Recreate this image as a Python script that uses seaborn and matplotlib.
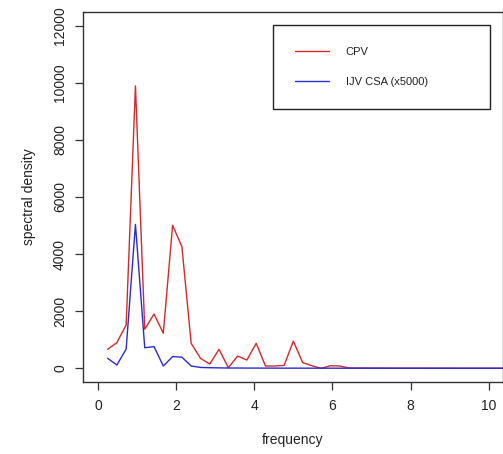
import numpy as np
import pandas as pd
import matplotlib
matplotlib.use("Agg")
import matplotlib.pyplot as plt
import seaborn as sns

# ---- data ----
freq = [0.238, 0.476, 0.714, 0.952, 1.190, 1.428, 1.666, 1.904, 2.142, 2.380,
        2.618, 2.856, 3.094, 3.332, 3.570, 3.808, 4.046, 4.284, 4.522, 4.760,
        4.998, 5.236, 5.474, 5.712, 5.950, 6.188, 6.426, 6.664, 6.902, 7.140,
        7.378, 7.616, 7.854, 8.092, 8.330, 8.568, 8.806, 9.044, 9.282, 9.520,
        9.758, 9.996, 10.234, 10.472]
cpv = [665, 900, 1520, 9890, 1370, 1900, 1230, 5010, 4260, 875,
       350, 150, 665, 20, 430, 290, 875, 80, 80, 100,
       950, 200, 90, 0, 90, 80, 10, 10, 8, 8,
       6, 6, 5, 5, 5, 4, 4, 4, 3, 3,
       3, 3, 3, 3]
ijv = [350, 115, 675, 5040, 720, 760, 80, 410, 390, 80,
       30, 20, 15, 10, 10, 8, 8, 6, 6, 5,
       5, 5, 4, 4, 4, 3, 3, 3, 3, 3,
       2, 2, 2, 2, 2, 2, 2, 2, 2, 2,
       2, 2, 2, 2]
series_names = ["CPV", "IJV CSA (x5000)"]
x_ticks = [0, 2, 4, 6, 8, 10]
y_ticks = [0, 2000, 4000, 6000, 8000, 10000, 12000]

sns.set_theme(style="ticks")
plt.rcParams["font.family"] = ["Liberation Sans", "DejaVu Sans"]

W, H = 503, 454
fig = plt.figure(figsize=(W / 100, H / 100), dpi=100)
ax = fig.add_axes([83 / W, 72 / H, 420 / W, 370 / H])

red = "#d02a2a"
blue = "#2b2bcc"
sns.lineplot(x=freq, y=cpv, color=red, linewidth=1.0, label=series_names[0], ax=ax)
sns.lineplot(x=freq, y=ijv, color=blue, linewidth=1.0, label=series_names[1], ax=ax)

ax.set_xlim(-0.392, 10.37)
ax.set_ylim(-480, 12480)
ax.set_xticks(x_ticks)
ax.set_yticks(y_ticks)
ax.set_xticklabels([str(t) for t in x_ticks])
ax.set_yticklabels([str(t) for t in y_ticks], rotation=90, va="center")

for s in ax.spines.values():
    s.set_visible(True)
    s.set_color("#333333")
    s.set_linewidth(1.0)

ax.tick_params(axis="both", direction="out", length=5.5, width=0.9,
               bottom=True, left=True, top=False, right=False,
               colors="#333333", labelcolor="#222222", labelsize=10)
ax.tick_params(axis="x", pad=7)
ax.tick_params(axis="y", pad=6)

ax.set_xlabel("frequency", fontsize=10, color="#222222", labelpad=14)
ax.set_ylabel("spectral density", fontsize=10, color="#222222", labelpad=12)

leg = ax.legend(loc="upper left", bbox_to_anchor=(0.452, 0.7405, 0.517, 0.2245),
                mode="expand", borderaxespad=0, fancybox=False, frameon=True,
                fontsize=8, borderpad=2.0, labelspacing=1.75, handlelength=3.05,
                handletextpad=1.5)
fr = leg.get_frame()
fr.set_edgecolor("#222222")
fr.set_linewidth(1.0)
fr.set_alpha(1)
for t in leg.get_texts():
    t.set_color("#222222")

fig.savefig("out.png", dpi=100)
